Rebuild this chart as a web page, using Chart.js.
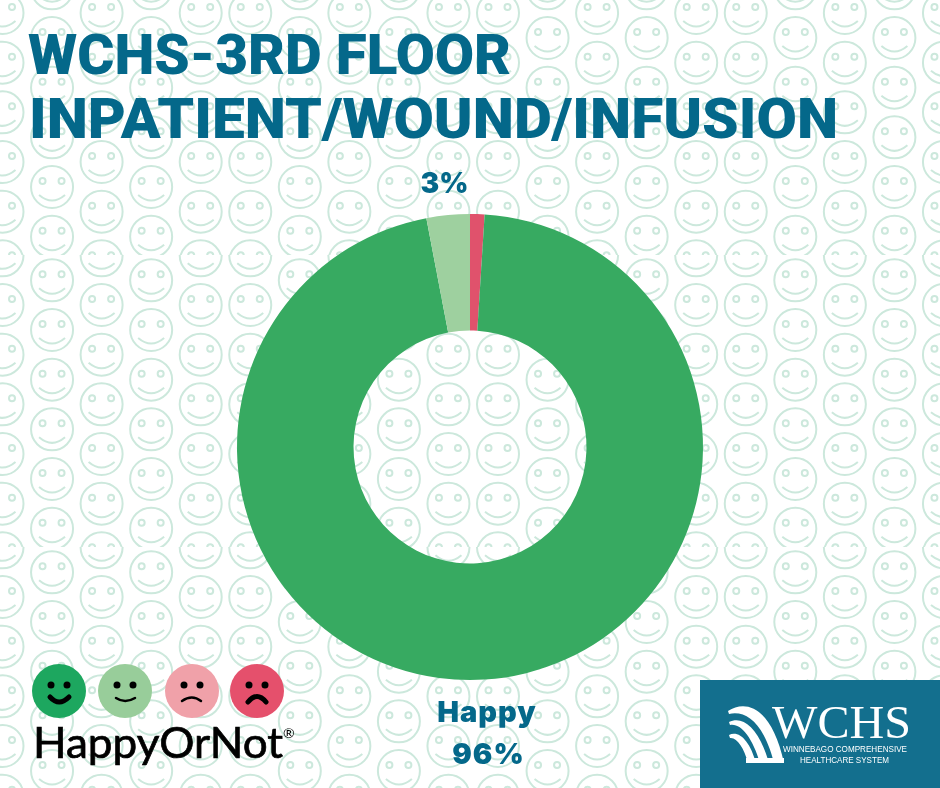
<!DOCTYPE html>
<html>
<head>
<meta charset="utf-8">
<script src="https://cdn.jsdelivr.net/npm/chart.js@4"></script>
<style>
  html, body { margin: 0; padding: 0; background: #fff; }
  #wrap { position: relative; width: 940px; height: 788px; overflow: hidden; }
  #chart { position: absolute; left: 0; top: 0; }
  #logos { position: absolute; left: 0; top: 0; }
</style>
</head>
<body>
<div id="wrap">
  <canvas id="chart" width="940" height="788"></canvas>
  <svg id="logos" width="940" height="788">
    <g font-family="Roboto" font-weight="900" font-size="55" fill="#04688a">
      <text x="28" y="74" textLength="483" lengthAdjust="spacingAndGlyphs">WCHS-3RD FLOOR</text>
      <text x="29" y="138" textLength="809" lengthAdjust="spacingAndGlyphs">INPATIENT/WOUND/INFUSION</text>
    </g>

    <circle cx="59" cy="691" r="27" fill="#1da75f"/>
    <circle cx="125" cy="691" r="27" fill="#98cd9a"/>
    <circle cx="192" cy="691" r="27" fill="#f0a1a9"/>
    <circle cx="257" cy="691" r="27" fill="#e5506c"/>
    <g fill="#000">
      <circle cx="51" cy="685" r="3.5"/><circle cx="67" cy="685" r="3.5"/>
      <circle cx="117" cy="685" r="3.5"/><circle cx="133" cy="685" r="3.5"/>
      <circle cx="184" cy="685" r="3.5"/><circle cx="200" cy="685" r="3.5"/>
      <circle cx="249" cy="685" r="3.5"/><circle cx="265" cy="685" r="3.5"/>
    </g>
    <g fill="none" stroke="#000" stroke-linecap="round">
      <path d="M50 697 Q59 707 69 697" stroke-width="5"/>
      <path d="M116 698 Q125 704 135 698" stroke-width="2.5"/>
      <path d="M182 701 Q192 694 201 701" stroke-width="2.5"/>
      <path d="M248 702 Q257 691 266 702" stroke-width="5"/>
    </g>
    <text x="33" y="758" font-family="Lato" font-size="43" fill="#000" stroke="#000" stroke-width="0.7" textLength="250" lengthAdjust="spacingAndGlyphs">HappyOrNot</text>
    <text x="283" y="738" font-family="Lato" font-size="14" fill="#000">®</text>

    <rect x="700" y="680" width="240" height="108" fill="#136f8e"/>
    <g fill="#fff">
      <path d="M728 711 C747 699 772 708 784 763 L774 763 C764 724 747 710 729 714 Z"/>
      <path d="M729 722 C743 715 759 728 769 763 L760 763 C752 737 741 723 730 725 Z"/>
      <path d="M729 735 C739 730 750 741 756 763 L748 763 C744 748 737 737 730 738 Z"/>
      <rect x="746" y="758" width="38" height="5"/>
    </g>
    <text x="772" y="738" font-family="Liberation Serif" font-size="47" fill="#fff" textLength="139" lengthAdjust="spacingAndGlyphs">WCHS</text>
    <g font-family="Liberation Sans" font-size="8.2" fill="#fff">
      <text x="783" y="752" textLength="124" lengthAdjust="spacingAndGlyphs">WINNEBAGO COMPREHENSIVE</text>
      <text x="800" y="763" textLength="89" lengthAdjust="spacingAndGlyphs">HEALTHCARE SYSTEM</text>
    </g>
  </svg>
</div>
<script>
const categories = ['Unhappy', 'Happy', 'Somewhat happy']
const shares = [1, 96, 3]
const sliceColors = ['#e0526c', '#37aa61', '#9ed09f']

// one smiley of the wallpaper, x/y is the centre of the face
function drawFace(c, x, y) {
  c.beginPath()
  c.arc(x, y, 21, 0, Math.PI * 2)
  c.stroke()
  c.beginPath()
  c.arc(x - 9.5, y - 6, 3, 0, Math.PI * 2)
  c.stroke()
  c.beginPath()
  c.arc(x + 9.5, y - 6, 3, 0, Math.PI * 2)
  c.stroke()
  c.beginPath()
  c.moveTo(x - 13, y + 8)
  c.quadraticCurveTo(x, y + 19, x + 13, y + 8)
  c.stroke()
}

// the wallpaper is a tile repeated every 292px, so faces get cut at the seams
const wallpaper = {
  id: 'wallpaper',
  beforeDraw(chart) {
    const c = chart.ctx
    c.save()
    c.strokeStyle = '#cce8dc'
    c.lineWidth = 2
    for (let band = 0; band < 3; band++) {
      const seam = -37 + band * 292
      c.save()
      c.beginPath()
      c.rect(0, seam, 940, 292)
      c.clip()
      for (let i = 0; i < 20; i++) {
        const x = 2.5 + i * 49.55
        const low = (i % 5) % 2 === 1
        const first = (low ? 38 : 13) + band * 292
        for (let n = -2; n < 7; n++) drawFace(c, x, first + n * 49.67)
      }
      c.restore()
    }
    c.restore()
  }
}

const sliceText = {
  id: 'sliceText',
  afterDraw(chart) {
    const c = chart.ctx
    c.save()
    c.fillStyle = '#04688a'
    c.textAlign = 'center'
    c.textBaseline = 'alphabetic'
    c.font = '900 28px Inter'
    c.fillText(shares[2] + '%', 444.5, 193)
    c.letterSpacing = '1px'
    c.font = '900 29px Inter'
    c.fillText(categories[1], 487, 722)
    c.fillText(shares[1] + '%', 488.5, 764)
    c.restore()
  }
}

new Chart(document.getElementById('chart'), {
  type: 'doughnut',
  data: {
    labels: categories,
    datasets: [{
      data: shares,
      backgroundColor: sliceColors,
      borderWidth: 0
    }]
  },
  options: {
    responsive: false,
    animation: false,
    cutout: '50%',
    layout: { padding: { left: 237, right: 237, top: 214, bottom: 108 } },
    plugins: { legend: { display: false }, tooltip: { enabled: false } }
  },
  plugins: [wallpaper, sliceText]
})
</script>
</body>
</html>
